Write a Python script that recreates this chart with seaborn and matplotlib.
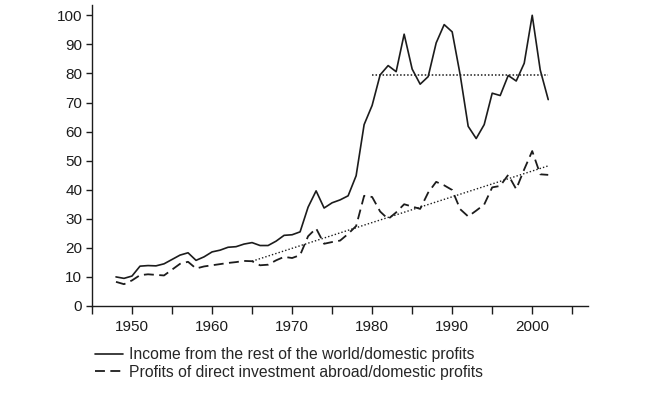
import seaborn as sns
import pandas as pd
import matplotlib.pyplot as plt
from matplotlib.ticker import MultipleLocator

# annual series (percent)
years = list(range(1948, 2003))
income_world = [10.0, 9.5, 10.3, 13.7, 13.9, 13.8, 14.5, 16.0, 17.5, 18.3,
                15.7, 16.9, 18.6, 19.2, 20.2, 20.4, 21.3, 21.8, 20.8, 20.8,
                22.3, 24.3, 24.5, 25.5, 34.0, 39.6, 33.7, 35.5, 36.5, 37.9,
                44.8, 62.4, 69.0, 79.5, 82.7, 80.6, 93.5, 81.5, 76.3, 78.9,
                90.5, 96.8, 94.3, 79.5, 61.8, 57.6, 62.4, 73.2, 72.4, 79.3,
                77.4, 83.5, 100.0, 81.2, 71.0]
direct_invest = [8.3, 7.5, 8.8, 10.6, 10.9, 10.7, 10.5, 12.5, 14.5, 15.2,
                 12.9, 13.6, 14.0, 14.4, 14.8, 15.1, 15.5, 15.4, 14.0, 14.2,
                 15.7, 16.9, 16.5, 17.5, 24.0, 26.7, 21.4, 22.0, 22.5, 24.8,
                 27.5, 37.9, 37.5, 32.5, 29.9, 32.2, 35.0, 34.2, 33.4, 39.0,
                 42.7, 41.5, 39.9, 33.3, 30.8, 32.8, 34.9, 40.8, 41.3, 45.1,
                 40.2, 47.0, 53.3, 45.3, 45.1]

# reference lines drawn on the chart
mean_years = [1980, 2002]
mean_values = [79.3, 79.3]
trend_years = [1965, 2002]
trend_values = [15.4, 48.2]

labels = ["Income from the rest of the world/domestic profits",
          "Profits of direct investment abroad/domestic profits"]
tick_years = [1950, 1960, 1970, 1980, 1990, 2000]

df = pd.DataFrame({"year": years, "income": income_world, "direct": direct_invest})

sns.set_theme(style="ticks")
plt.rcParams['font.family'] = ['Liberation Sans', 'DejaVu Sans']

fig = plt.figure(figsize=(6.5, 3.94), dpi=100)
ax = fig.add_axes([0.1415, 0.2234, 0.7635, 0.7636])

ink = "#1c1c1c"
sns.lineplot(data=df, x="year", y="income", ax=ax, color=ink, lw=1.2, label=labels[0])
sns.lineplot(data=df, x="year", y="direct", ax=ax, color=ink, lw=1.3,
             dashes=False, label=labels[1])
ax.lines[1].set_dashes((5.5, 3))
sns.lineplot(x=mean_years, y=mean_values, ax=ax, color=ink, lw=1.1, legend=False)
ax.lines[2].set_linestyle((0, (1, 1.3)))
sns.lineplot(x=trend_years, y=trend_values, ax=ax, color=ink, lw=1.0, legend=False)
ax.lines[3].set_linestyle((0, (1, 1.5)))

ax.set_xlim(1945, 2007)
ax.set_ylim(0, 103.5)
ax.set_xticks(tick_years)
ax.xaxis.set_minor_locator(MultipleLocator(5))
ax.yaxis.set_major_locator(MultipleLocator(10))
ax.set_xlabel("")
ax.set_ylabel("")
sns.despine(ax=ax)
for s in ["left", "bottom"]:
    ax.spines[s].set_color(ink)
    ax.spines[s].set_linewidth(1.0)
ax.tick_params(axis="both", which="both", colors=ink, labelsize=11, width=1.0)
ax.tick_params(axis="x", which="both", length=6, pad=4)
ax.tick_params(axis="y", length=4, pad=3)

leg = ax.legend(loc="upper left", bbox_to_anchor=(0.146, 0.119),
                bbox_transform=fig.transFigure, frameon=False, fontsize=11.3,
                handlelength=1.8, handletextpad=0.4, labelspacing=0.18,
                borderaxespad=0, borderpad=0)

fig.savefig("out.png", dpi=100)
